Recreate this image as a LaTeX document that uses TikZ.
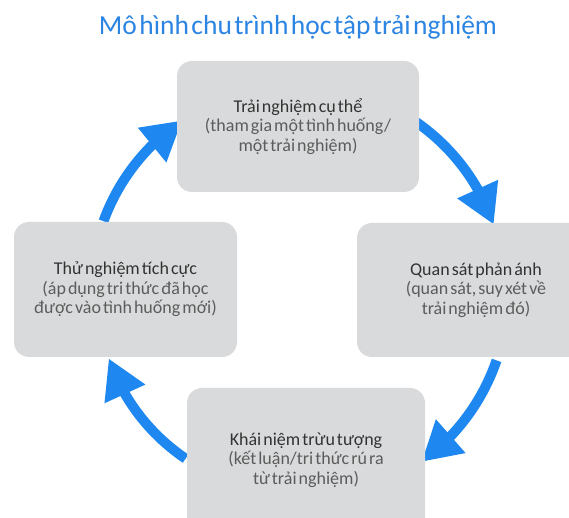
\documentclass[tikz,border=0pt]{standalone}
\usepackage{fontspec}
\setmainfont{Carlito}[WordSpace=0.5]
\newfontfamily\titlefont{Carlito}[WordSpace=0.4]
\usetikzlibrary{arrows.meta,bending}
\definecolor{arrblue}{HTML}{1E88F0}
\definecolor{titleblue}{HTML}{2C85E2}
\definecolor{boxgray}{HTML}{D9DADB}
\definecolor{headtxt}{HTML}{333333}
\definecolor{subtxt}{HTML}{5C5C5C}
\tikzset{
  stagebox/.style={fill=boxgray, draw=none, rounded corners=15pt, align=center, inner sep=0pt,
    font=\fontsize{18}{19.5}\selectfont, text=subtxt},
  cyclearrow/.style={draw=arrblue, line width=10pt, -{Triangle[length=39pt,width=42pt,flex]}},
}
\newcommand{\headline}[1]{{\color{headtxt}#1}}
\begin{document}
\begin{tikzpicture}[x=1pt,y=1pt]
\useasboundingbox (0,0) rectangle (569,518);
\clip (0,0) rectangle (569,518);
\fill[white] (0,0) rectangle (569,518);
\coordinate (c) at (298,226);
% arrows
\draw[cyclearrow] ([shift={(56:207)}]c) arc[start angle=56, end angle=19, radius=207];
\draw[cyclearrow] ([shift={(-19:210)}]c) arc[start angle=-19, end angle=-54, radius=210];
\draw[cyclearrow] ([shift={(236:201)}]c) arc[start angle=236, end angle=199, radius=199];
\draw[cyclearrow] ([shift={(160:207)}]c) arc[start angle=160, end angle=124, radius=207];
% title
\node[font=\titlefont\fontsize{27.5}{30}\selectfont, text=titleblue] (title) at (298,491) {Mô hình chu trình học tập trải nghiệm};
% boxes
\node[stagebox, minimum width=242pt, minimum height=131pt] (top) at (298,391.5)
  {\headline{Trải nghiệm cụ thể}\\(tham gia một tình huống/\\một trải nghiệm)};
\node[stagebox, minimum width=223pt, minimum height=135pt] (left) at (125.5,228.5)
  {\headline{Thử nghiệm tích cực}\\(áp dụng tri thức đã học\\được vào tình huống mới)};
\node[stagebox, minimum width=238pt, minimum height=134pt] (right) at (476,228)
  {\headline{Quan sát phản ánh}\\(quan sát, suy xét về\\trải nghiệm đó)};
\node[stagebox, minimum width=238pt, minimum height=144pt] (bottom) at (306,58)
  {\headline{Khái niệm trừu tượng}\\(kết luận/tri thức rú ra\\từ trải nghiệm)};
\end{tikzpicture}
\end{document}
